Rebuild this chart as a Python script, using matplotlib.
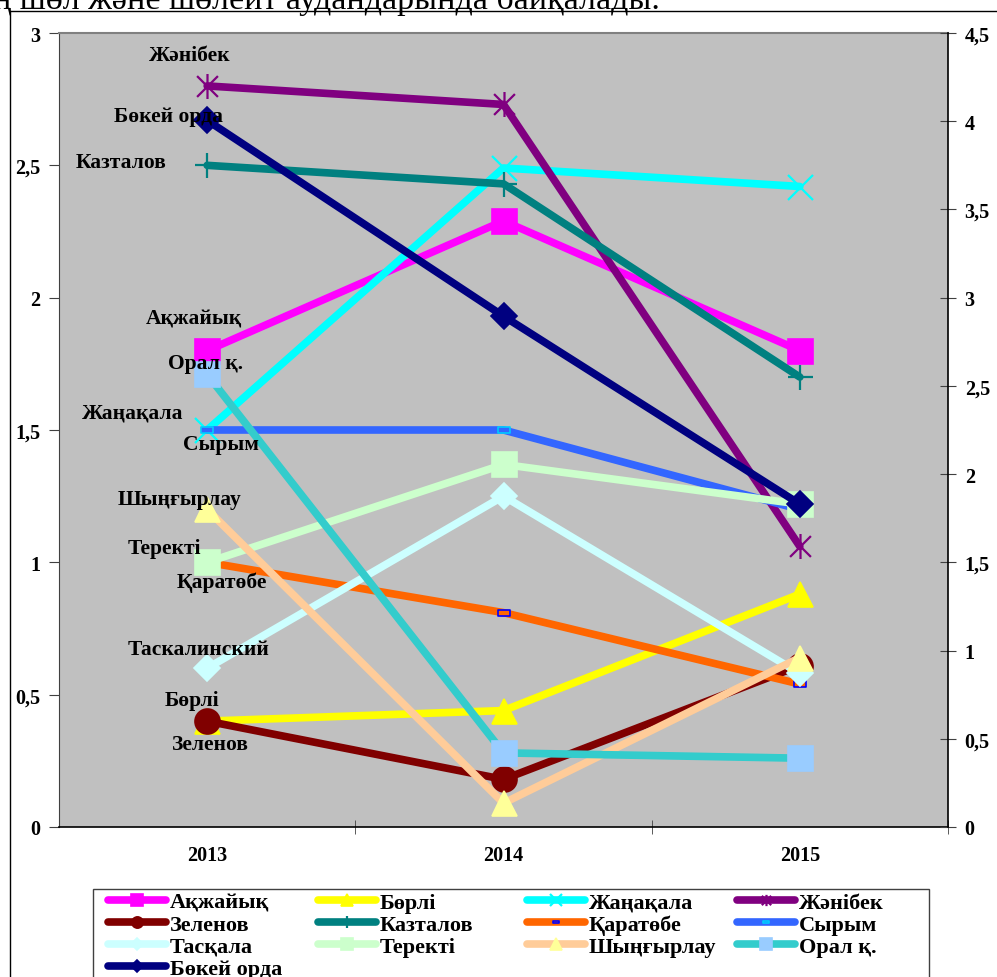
import matplotlib.pyplot as plt
from matplotlib.path import Path
from matplotlib.lines import Line2D
from matplotlib.patches import Rectangle
from matplotlib.ticker import MultipleLocator, FuncFormatter, FixedLocator

plt.rcParams['font.family'] = ['Liberation Serif', 'DejaVu Serif']
plt.rcParams['font.weight'] = 'bold'

# данные (читаются по левой оси)
years = ['2013', '2014', '2015']
akzhaiyk = [1.80, 2.29, 1.80]
borli = [0.40, 0.44, 0.88]
zhanakala = [1.50, 2.49, 2.42]
zhanibek = [2.80, 2.73, 1.06]
zelenov = [0.40, 0.18, 0.61]
kaztalov = [2.50, 2.43, 1.70]
karatobe = [1.00, 0.81, 0.54]
syrym = [1.50, 1.50, 1.20]
taskala = [0.60, 1.25, 0.58]
terekti = [1.00, 1.37, 1.22]
shyngyrlau = [1.20, 0.09, 0.64]
oral = [1.71, 0.28, 0.26]
bokei = [2.67, 1.93, 1.22]

names = ['Ақжайық', 'Бөрлі', 'Жаңақала', 'Жәнібек', 'Зеленов', 'Казталов',
         'Қаратөбе', 'Сырым', 'Тасқала', 'Теректі', 'Шыңғырлау', 'Орал қ.',
         'Бөкей орда']
values = [akzhaiyk, borli, zhanakala, zhanibek, zelenov, kaztalov,
          karatobe, syrym, taskala, terekti, shyngyrlau, oral, bokei]
# подписи у точек 2013 года
point_labels = ['Ақжайық', 'Бөрлі', 'Жаңақала', 'Жәнібек', 'Зеленов', 'Казталов',
                'Қаратөбе', 'Сырым', 'Таскалинский', 'Теректі', 'Шыңғырлау',
                'Орал қ.', 'Бөкей орда']

# маркеры
star = Path([(-1, -1), (1, 1), (-1, 1), (1, -1), (0, -1.2), (0, 1.2)],
            [Path.MOVETO, Path.LINETO, Path.MOVETO, Path.LINETO, Path.MOVETO, Path.LINETO])
dash = Path([(-1, -0.45), (1, -0.45), (1, 0.45), (-1, 0.45), (-1, -0.45)],
            [Path.MOVETO, Path.LINETO, Path.LINETO, Path.LINETO, Path.CLOSEPOLY])

# цвет линии, маркер, заливка маркера, край маркера, размер, смещение подписи (px)
styles = [
    ('#FF00FF', 's', '#FF00FF', '#FF00FF', 18, (-13, 32)),
    ('#FFFF00', '^', '#FFFF00', '#FFFF00', 18, (-15, 21)),
    ('#00FFFF', 'x', '#00FFFF', '#00FFFF', 18, (-75, 17)),
    ('#800080', star, '#800080', '#800080', 18, (-17, 31)),
    ('#800000', 'o', '#800000', '#800000', 18, (3, -23)),
    ('#008080', '+', '#008080', '#008080', 18, (-86, 3)),
    ('#FF6600', dash, '#FF6600', '#0000FF', 8.5, (15, -19)),
    ('#3366FF', dash, '#3366FF', '#00CCFF', 8.5, (14, -14)),
    ('#CCFFFF', 'D', '#CCFFFF', '#CCFFFF', 13, (-9, 19)),
    ('#CCFFCC', 's', '#CCFFCC', '#CCFFCC', 18, (-43, 14)),
    ('#FFCC99', '^', '#FFFF99', '#FFFF99', 18, (-28, 10)),
    ('#33CCCC', 's', '#99CCFF', '#99CCFF', 18, (-2, 11)),
    ('#000080', 'D', '#000080', '#000080', 13, (-39, 4)),
]

W, H = 997, 978
fig = plt.figure(figsize=(W / 100, H / 100), dpi=100)

ax = fig.add_axes([59 / W, 150 / H, 889 / W, 794 / H])
ax.set_facecolor('#C0C0C0')
x = list(range(len(years)))

lines = []
for name, vals, st in zip(names, values, styles):
    col, mk, mfc, mec, ms, _ = st
    mew = 1.6 if mk in ('x', '+') or mk is star else 1.2
    ln, = ax.plot(x, vals, color=col, lw=5.5, marker=mk, ms=ms, mfc=mfc, mec=mec,
                  mew=mew, solid_capstyle='round', solid_joinstyle='round',
                  label=name, clip_on=False)
    lines.append(ln)

for lab, vals, st in zip(point_labels, values, styles):
    ax.annotate(lab, (0, vals[0]), xytext=st[5], textcoords='offset pixels',
                ha='center', va='center', fontsize=15.5, fontweight='bold', color='black')

fmt = FuncFormatter(lambda v, p: ('%g' % v).replace('.', ','))
ax.set_xlim(-0.5, 2.5)
ax.set_ylim(0, 3)
ax.yaxis.set_major_locator(MultipleLocator(0.5))
ax.yaxis.set_major_formatter(fmt)
ax.set_xticks(x)
ax.set_xticklabels(years)
ax.xaxis.set_minor_locator(FixedLocator([0.5, 1.5, 2.5]))
ax.tick_params(axis='x', which='major', length=0, pad=13, labelsize=14.5)
ax.tick_params(axis='x', which='minor', length=10, direction='inout', color='#404040')
ax.tick_params(axis='y', length=7, direction='out', color='#404040', pad=6.5, labelsize=14.5)
ax.spines['top'].set_color('#808080')
ax.spines['top'].set_linewidth(1.5)
ax.spines['left'].set_color('#404040')
ax.spines['bottom'].set_color('black')
ax.spines['bottom'].set_linewidth(1.2)
ax.spines['right'].set_visible(False)

ax2 = ax.twinx()
ax2.set_ylim(0, 4.5)
ax2.yaxis.set_major_locator(MultipleLocator(0.5))
ax2.yaxis.set_major_formatter(fmt)
ax2.tick_params(axis='y', length=12, direction='inout', color='#404040', pad=6, labelsize=14.5)
for s in ('top', 'left', 'bottom'):
    ax2.spines[s].set_visible(False)
ax2.spines['right'].set_color('black')
ax2.spines['right'].set_linewidth(1.2)

# легенда: 4 колонки, заполнение по строкам
col_x = [108, 318, 527, 737]
for c in range(4):
    idx = list(range(c, len(names), 4))
    fig.legend([lines[i] for i in idx], [names[i] for i in idx],
               loc='upper left', bbox_to_anchor=(col_x[c] / W, 1 - 893 / H),
               frameon=False, fontsize=16, handlelength=2.6, handletextpad=0.18,
               borderpad=0, borderaxespad=0, labelspacing=0.07, markerscale=0.45)
fig.add_artist(Rectangle((93 / W, -0.05), (929 - 93) / W, 0.05 + 1 - 890 / H,
                         transform=fig.transFigure, fill=False, ec='#404040', lw=1))

# внешняя рамка диаграммы
fig.add_artist(Line2D([10 / W, 1.01], [1 - 12 / H] * 2, transform=fig.transFigure,
                      color='black', lw=1))
fig.add_artist(Line2D([10 / W] * 2, [-0.01, 1 - 12 / H], transform=fig.transFigure,
                      color='black', lw=1))

fig.text(-7 / W, 1 - 8.5 / H, 'ң шөл және шөлейт аудандарында байқалады.',
         fontsize=24.5, fontweight='normal', va='baseline', ha='left')

fig.savefig('out.png', dpi=100)
